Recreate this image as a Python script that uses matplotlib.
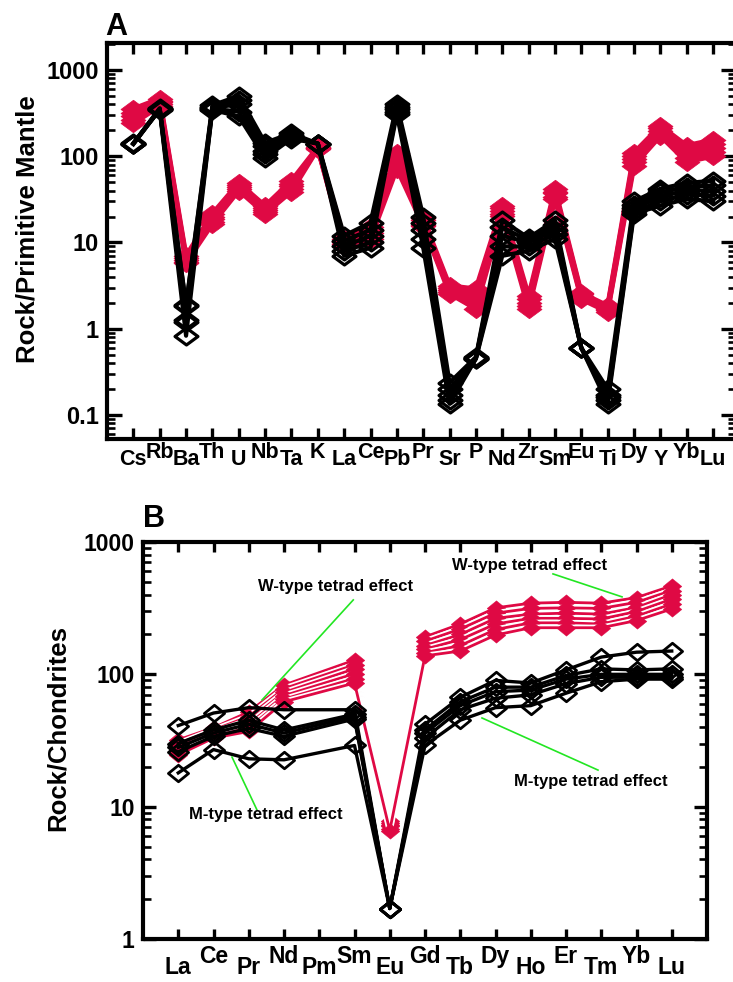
import numpy as np
import matplotlib
matplotlib.use("Agg")
import matplotlib.pyplot as plt
from matplotlib.path import Path
from matplotlib.ticker import NullFormatter, FixedLocator, FixedFormatter

plt.rcParams["font.family"] = ["Liberation Sans", "DejaVu Sans"]
plt.rcParams["font.weight"] = "bold"

RED = "#DF0944"
GREEN = "#22E622"

# ---- A: primitive-mantle normalised spider diagram ----
pm_elements = ["Cs", "Rb", "Ba", "Th", "U", "Nb", "Ta", "K", "La", "Ce", "Pb", "Pr",
               "Sr", "P", "Nd", "Zr", "Sm", "Eu", "Ti", "Dy", "Y", "Yb", "Lu"]

pm_red_1 = [355, 465, 7.0, 21.6, 49, 26.6, 52, 128, 11, 15, 110, 19, 3.15, 2.9, 26.7, 2.4, 42, 2.6, 1.85, 110, 225, 133, 155]
pm_red_2 = [320, 440, 6.6, 20, 46, 25, 48, 126, 10.5, 14, 100, 18, 3.0, 2.6, 25, 2.2, 39, 2.5, 1.78, 100, 210, 120, 140]
pm_red_3 = [290, 420, 6.3, 18.5, 44, 23.5, 45, 125, 10, 13, 90, 17, 2.85, 2.3, 23, 2.0, 37, 2.4, 1.7, 92, 195, 108, 125]
pm_red_4 = [265, 400, 6.0, 17.5, 42, 22.5, 42, 124, 9.6, 12, 80, 16, 2.7, 2.0, 21.5, 1.85, 34, 2.3, 1.63, 85, 182, 96, 112]
pm_red_5 = [240, 380, 5.8, 16.5, 40, 21.6, 39, 122, 9.2, 11, 72, 15.6, 2.55, 1.7, 20.4, 1.7, 32, 2.2, 1.57, 78, 172, 86, 100]

pm_black_1 = [140, 360, 1.9, 390, 500, 143, 185, 140, 12, 17, 400, 20, 0.237, 0.47, 18, 11.3, 18, 0.6, 0.2, 30, 42, 49, 52]
pm_black_2 = [140, 355, 1.25, 375, 450, 130, 175, 140, 10.5, 14, 370, 17, 0.2, 0.46, 15, 10.5, 16, 0.6, 0.17, 27, 38, 44, 46]
pm_black_3 = [138, 350, 1.85, 365, 400, 115, 170, 140, 9, 12, 350, 14, 0.17, 0.46, 12, 10, 14, 0.6, 0.16, 25, 34, 40, 40]
pm_black_4 = [142, 345, 0.83, 355, 330, 105, 165, 140, 8, 10, 330, 11, 0.15, 0.45, 9, 9, 12.5, 0.6, 0.15, 23, 30, 36, 35]
pm_black_5 = [140, 350, 1.2, 345, 290, 96, 160, 140, 7, 8.7, 310, 8.7, 0.135, 0.45, 7, 8, 11, 0.6, 0.135, 21.6, 26.7, 32, 30]

pm_ticks = [0.1, 1, 10, 100, 1000]
pm_ticklabels = ["0.1", "1", "10", "100", "1000"]

# ---- B: chondrite normalised REE (Pm not analysed) ----
ree_elements = ["La", "Ce", "Pr", "Nd", "Pm", "Sm", "Eu", "Gd", "Tb", "Dy", "Ho", "Er", "Tm", "Yb", "Lu"]
nan = np.nan
ree_red_1 = [32, 39.5, 52, 83, nan, 128, 7.8, 192, 240, 318, 345, 350, 345, 380, 466]
ree_red_2 = [30, 38, 48, 78, nan, 118, 7.5, 178, 220, 290, 315, 318, 315, 350, 430]
ree_red_3 = [28.5, 36.5, 45, 73, nan, 110, 7.3, 165, 200, 265, 285, 290, 285, 320, 400]
ree_red_4 = [27, 35, 42, 69, nan, 101, 7.1, 155, 183, 240, 265, 265, 262, 298, 370]
ree_red_5 = [25.8, 34, 39.5, 65, nan, 93, 6.8, 146, 165, 218, 245, 245, 240, 275, 340]
ree_red_6 = [24.6, 33, 37, 62, nan, 86, 6.6, 138, 150, 198, 225, 225, 225, 255, 312]

ree_black_1 = [41, 51, 56, 54, nan, 54, 1.7, 42, 67, 90, 86, 108, 135, 147, 150]
ree_black_2 = [30, 38, 45, 38, nan, 50, 1.7, 38, 62, 80, 80, 98, 110, 108, 110]
ree_black_3 = [28, 36, 42, 36, nan, 48, 1.7, 36, 58, 74, 76, 92, 100, 100, 100]
ree_black_4 = [26, 34, 39, 34, nan, 46, 1.7, 33, 54, 66, 70, 85, 95, 95, 95]
ree_black_5 = [18, 27, 23, 22.6, nan, 29, 1.7, 29, 45, 56, 58, 72, 88, 92, 92]

ree_ticks = [1, 10, 100, 1000]
ree_ticklabels = ["1", "10", "100", "1000"]


def diamond(flat):
    # diamond wider than tall
    return Path([(-1, 0), (0, flat), (1, 0), (0, -flat), (-1, 0)],
                [Path.MOVETO, Path.LINETO, Path.LINETO, Path.LINETO, Path.CLOSEPOLY])


DIAMOND_A = diamond(0.74)
DIAMOND_B = diamond(0.82)


def plot_series(ax, values, **kw):
    y = np.asarray(values, dtype=float)
    x = np.arange(len(y))
    ok = np.isfinite(y)
    ax.plot(x[ok], y[ok], **kw)


def style_axes(ax, elements, yticks, yticklabels, ylim, xmax, xfs, yfs, pads, ylens, xlen):
    n = len(elements)
    ax.set_yscale("log")
    ax.set_ylim(*ylim)
    ax.set_xlim(-1, xmax)
    for s in ax.spines.values():
        s.set_linewidth(3)
    ax.set_yticks(yticks, yticklabels)
    ax.yaxis.set_minor_formatter(NullFormatter())

    # staggered element labels: even ones on major ticks (low), odd ones on minor ticks (high)
    idx = np.arange(n)
    ax.xaxis.set_major_locator(FixedLocator(idx[::2]))
    ax.xaxis.set_major_formatter(FixedFormatter(elements[::2]))
    ax.xaxis.set_minor_locator(FixedLocator(idx[1::2]))
    ax.xaxis.set_minor_formatter(FixedFormatter(elements[1::2]))

    ax.tick_params(which="both", direction="in", top=True, bottom=True,
                   left=True, right=True, width=2.4, color="black")
    ax.tick_params(axis="y", which="major", length=ylens[0], labelsize=yfs, pad=6)
    ax.tick_params(axis="y", which="minor", length=ylens[1], width=1.9)
    ax.tick_params(axis="x", which="major", length=xlen, labelsize=xfs, pad=pads[0])
    ax.tick_params(axis="x", which="minor", length=xlen, labelsize=xfs, pad=pads[1])


fig = plt.figure(figsize=(7.33, 9.82), dpi=100)

# ---------- panel A ----------
axA = fig.add_axes([107 / 733, 1 - 439 / 982, 629 / 733, 396 / 982])
for vals in [pm_red_1, pm_red_2, pm_red_3, pm_red_4, pm_red_5]:
    plot_series(axA, vals, color=RED, lw=3.5, marker=DIAMOND_A, ms=18, mfc=RED, mec=RED,
                mew=0.5, zorder=2)
for vals in [pm_black_1, pm_black_2, pm_black_3, pm_black_4, pm_black_5]:
    plot_series(axA, vals, color="black", lw=3, marker=DIAMOND_A, ms=16.5, mfc="none",
                mec="black", mew=2.3, zorder=3)
style_axes(axA, pm_elements, pm_ticks, pm_ticklabels, (0.0527, 2055), 22.87, 15.5, 17,
           (7.5, 2), (10.5, 5.5), 8)
fig.text(105 / 733, 1 - 35 / 982, "A", fontsize=22, fontweight="bold", ha="left", va="baseline")
fig.text(28 / 733, 1 - 229 / 982, "Rock/Primitive Mantle", fontsize=18.5, fontweight="bold",
         rotation=90, ha="center", va="center")

# ---------- panel B ----------
axB = fig.add_axes([143 / 733, 1 - 939 / 982, 564 / 733, 397 / 982])
for vals in [ree_red_1, ree_red_2, ree_red_3, ree_red_4, ree_red_5, ree_red_6]:
    plot_series(axB, vals, color="white", lw=4.5, zorder=2)
    plot_series(axB, vals, color=RED, lw=2, marker=DIAMOND_B, ms=13.5, mfc=RED, mec=RED,
                mew=0.3, zorder=2)
for vals in [ree_black_1, ree_black_2, ree_black_3, ree_black_4, ree_black_5]:
    plot_series(axB, vals, color="black", lw=2.4, marker=DIAMOND_B, ms=14.5, mfc="none",
                mec="black", mew=2, zorder=3)
style_axes(axB, ree_elements, ree_ticks, ree_ticklabels, (1, 1000), 15, 16.5, 16.5,
           (12, 4), (9.5, 5.5), 7.5)
fig.text(143 / 733, 1 - 527 / 982, "B", fontsize=22, fontweight="bold", ha="left", va="baseline")
fig.text(58 / 733, 1 - 728 / 982, "Rock/Chondrites", fontsize=18.5, fontweight="bold",
         rotation=90, ha="center", va="center")

# tetrad-effect annotations
ann_kw = dict(fontsize=12, fontweight="bold", ha="center", va="center", zorder=6)
axB.text(4.45, 458, "W-type tetrad effect", **ann_kw)
axB.plot([4.965, 2.376], [365, 64], color=GREEN, lw=1.2, zorder=5)
axB.text(9.98, 660, "W-type tetrad effect", **ann_kw)
axB.plot([10.631, 12.589], [574, 385], color=GREEN, lw=1.2, zorder=5)
axB.text(2.475, 8.8, "M-type tetrad effect", **ann_kw)
axB.plot([2.234, 1.525], [9.44, 23.7], color=GREEN, lw=1.2, zorder=5)
axB.text(11.695, 15.6, "M-type tetrad effect", **ann_kw)
axB.plot([11.908, 8.617], [18.9, 46.8], color=GREEN, lw=1.2, zorder=5)

fig.savefig("out.png", dpi=100, facecolor="white")
